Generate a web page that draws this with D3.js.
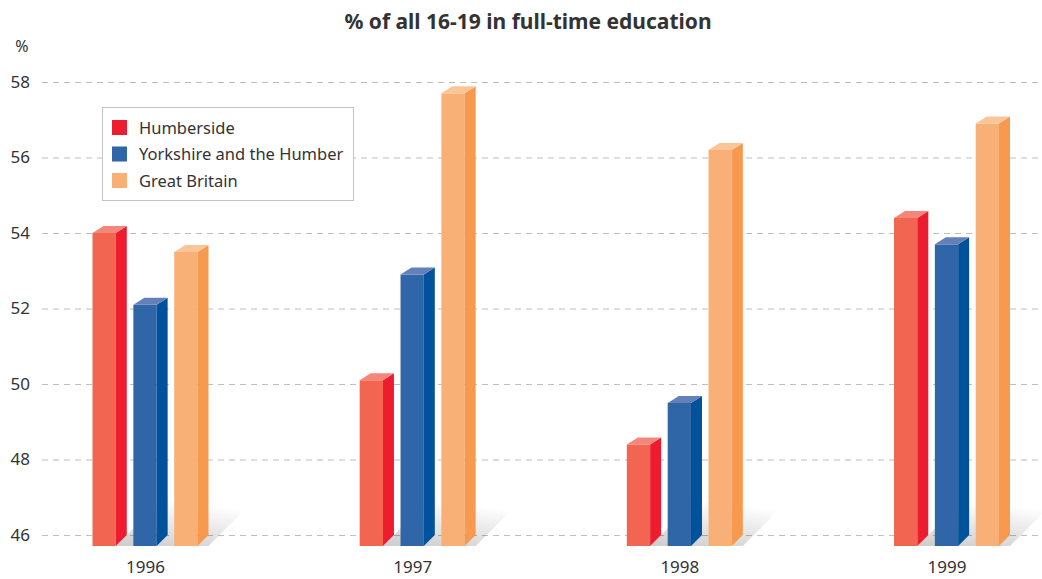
<!DOCTYPE html>
<html lang="en">
<head>
<meta charset="UTF-8">
<title>% of all 16-19 in full-time education</title>
<style>
  body { margin: 0; background: #fff; }
  svg text { font-family: "Noto Sans", "Open Sans", sans-serif; fill: #333; }
</style>
</head>
<body>
<script src="https://cdn.jsdelivr.net/npm/d3@7"></script>
<script>
// data
const years = ["1996", "1997", "1998", "1999"];
const series = ["Humberside", "Yorkshire and the Humber", "Great Britain"];
const humberside = [54.0, 50.1, 48.4, 54.4];
const yorkshire = [52.1, 52.9, 49.5, 53.7];
const greatBritain = [53.5, 57.7, 56.2, 56.9];
const yTicks = [46, 48, 50, 52, 54, 56, 58];

// front / side / top shades per series
const colors = {
  "Humberside": {front: "#f26651", side: "#ed1c2e", top: "#f4877a"},
  "Yorkshire and the Humber": {front: "#2e66a8", side: "#00529b", top: "#6480b9"},
  "Great Britain": {front: "#f9b077", side: "#f79a50", top: "#fbc597"}
};
const legendColors = {"Humberside": "#ed1c2e", "Yorkshire and the Humber": "#2e66a8", "Great Britain": "#f9b077"};

const width = 1042, height = 579;
const depthX = 11, depthY = 7;

const rows = [];
years.forEach((yr, i) => {
  rows.push({year: yr, key: series[0], value: humberside[i]});
  rows.push({year: yr, key: series[1], value: yorkshire[i]});
  rows.push({year: yr, key: series[2], value: greatBritain[i]});
});

const y = d3.scaleLinear().domain([45.71, 58]).range([546, 82]);
const x0 = d3.scalePoint().domain(years).range([145, 946.5]);
const x1 = d3.scaleBand().domain(series).range([-52.5, 52.5]).paddingInner(0.43);

const svg = d3.select("body").append("svg")
  .attr("width", width).attr("height", height)
  .attr("viewBox", [0, 0, width, height]);

const defs = svg.append("defs");
const grad = defs.append("linearGradient").attr("id", "shadow")
  .attr("x1", "0%").attr("y1", "100%").attr("x2", "40%").attr("y2", "0%");
grad.append("stop").attr("offset", "0%").attr("stop-color", "#000").attr("stop-opacity", 0.2);
grad.append("stop").attr("offset", "100%").attr("stop-color", "#000").attr("stop-opacity", 0);

// title
svg.append("text")
  .attr("x", 528).attr("y", 29)
  .attr("text-anchor", "middle")
  .style("font-size", "21px").style("font-weight", "bold")
  .text("% of all 16-19 in full-time education");

svg.append("text")
  .attr("x", 22).attr("y", 52)
  .attr("text-anchor", "middle")
  .style("font-size", "16px")
  .text("%");

// y axis + dashed grid
const yAxis = g => g
  .attr("transform", "translate(42,0)")
  .call(d3.axisLeft(y).tickValues(yTicks).tickSize(-998).tickPadding(12))
  .call(g => g.select(".domain").remove())
  .call(g => g.selectAll(".tick line")
    .attr("stroke", "#bdbdbd").attr("stroke-dasharray", "6,5"))
  .call(g => g.selectAll(".tick text")
    .style("font-size", "17px").attr("fill", "#333")
    .style("font-family", "'Noto Sans', sans-serif"));

svg.append("g").call(yAxis);

// x axis labels
const xAxis = g => g
  .attr("transform", "translate(0,555)")
  .call(d3.axisBottom(x0).tickSize(0).tickPadding(6))
  .call(g => g.select(".domain").remove())
  .call(g => g.selectAll(".tick text")
    .style("font-size", "17px").attr("fill", "#333")
    .style("font-family", "'Noto Sans', sans-serif"));

svg.append("g").call(xAxis);

// floor shadows behind each group
const base = y(45.71);
svg.append("g").selectAll("path")
  .data(years)
  .join("path")
  .attr("fill", "url(#shadow)")
  .attr("d", yr => {
    const xa = x0(yr) + x1(series[0]) + x1.bandwidth();
    const xb = x0(yr) + x1(series[2]) + x1.bandwidth() + depthX;
    const s = 46;
    return `M${xa},${base}L${xb},${base}L${xb + s},${base - s}L${xa + s},${base - s}Z`;
  });

// 3D bars
const bar = svg.append("g").selectAll("g")
  .data(rows)
  .join("g")
  .attr("transform", d => `translate(${x0(d.year) + x1(d.key)},0)`);

const bw = x1.bandwidth();
bar.append("rect")
  .attr("x", 0).attr("y", d => y(d.value))
  .attr("width", bw).attr("height", d => base - y(d.value))
  .attr("fill", d => colors[d.key].front);

bar.append("path")
  .attr("fill", d => colors[d.key].side)
  .attr("d", d => {
    const t = y(d.value);
    return `M${bw},${t}L${bw + depthX},${t - depthY}L${bw + depthX},${base - depthY - 4}L${bw},${base}Z`;
  });

bar.append("path")
  .attr("fill", d => colors[d.key].top)
  .attr("d", d => {
    const t = y(d.value);
    return `M0,${t}L${depthX},${t - depthY}L${bw + depthX},${t - depthY}L${bw},${t}Z`;
  });

// legend
const legend = svg.append("g").attr("transform", "translate(102,107)");
legend.append("rect")
  .attr("x", 0.5).attr("y", 0.5).attr("width", 251).attr("height", 93)
  .attr("fill", "#fff").attr("stroke", "#c4c4c4");

const item = legend.selectAll("g.item")
  .data(series)
  .join("g").attr("class", "item")
  .attr("transform", (d, i) => `translate(10,${13 + i * 26.5})`);

item.append("rect")
  .attr("width", 15).attr("height", 15)
  .attr("fill", d => legendColors[d]);

item.append("text")
  .attr("x", 27).attr("y", 8).attr("dy", "0.35em")
  .style("font-size", "16.5px")
  .text(d => d);
</script>
</body>
</html>
